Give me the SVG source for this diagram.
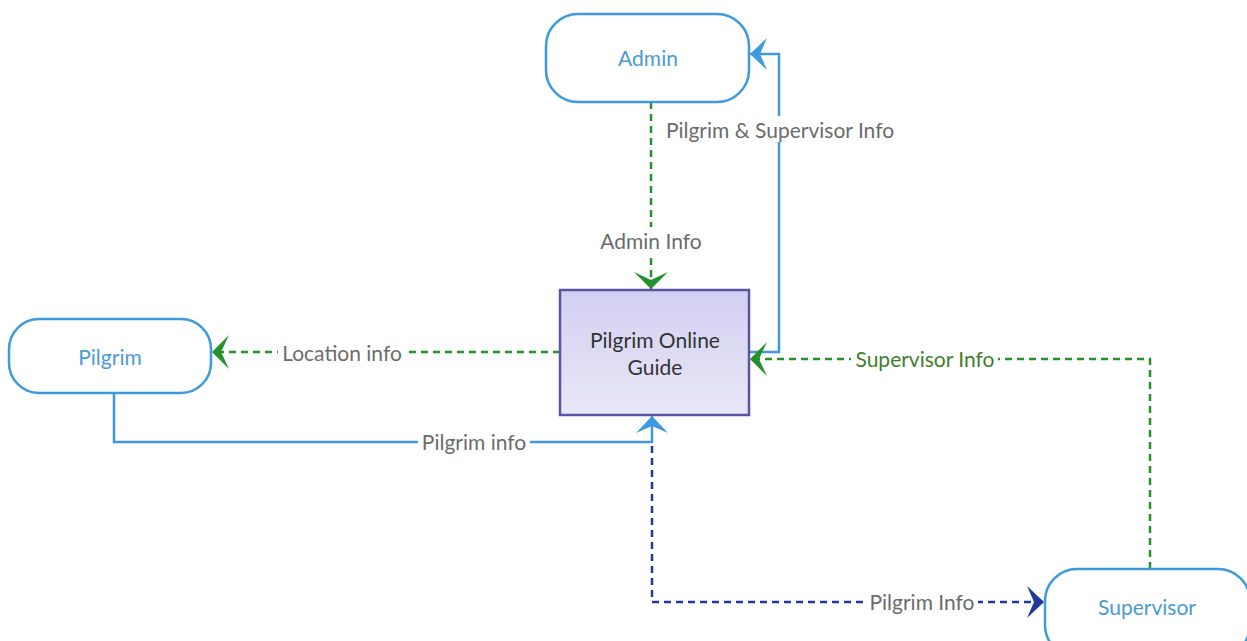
<svg xmlns="http://www.w3.org/2000/svg" width="1247" height="641" viewBox="0 0 1247 641">
  <style>
    .term { fill: #ffffff; stroke: #3d9ade; stroke-width: 2.5; }
    .termtxt { font-family: Lato, "Open Sans", sans-serif; font-size: 21px; fill: #4a9ad8; text-anchor: middle; dominant-baseline: central; }
    .proc { stroke: #5b54a6; stroke-width: 2.5; }
    .proctxt { font-family: Lato, "Open Sans", sans-serif; font-size: 21px; fill: #333333; text-anchor: middle; dominant-baseline: central; }
    .lbl { font-family: Lato, "Open Sans", sans-serif; font-size: 21px; fill: #6b6b6b; text-anchor: middle; dominant-baseline: central; }
    .lbl-green { fill: #3e7f2e; }
    .bg { fill: #ffffff; }
    .line { fill: none; stroke-width: 2.5; }
    .blue { stroke: #3d9ade; }
    .green { stroke: #24912a; stroke-dasharray: 7 5; }
    .navy { stroke: #1f3a9c; stroke-dasharray: 7 5; }
  </style>
  <defs>
    <linearGradient id="procFill" x1="0" y1="0" x2="0" y2="1">
      <stop offset="0" stop-color="#d2d0f1"/>
      <stop offset="1" stop-color="#e9e7f6"/>
    </linearGradient>
    <marker id="arrBlue" markerUnits="userSpaceOnUse" markerWidth="24" markerHeight="40" viewBox="-20 -20 24 40" refX="0" refY="0" orient="auto">
      <path d="M0,0 L-17,-16 L-10,0 L-17,16 Z" fill="#3d9ade"/>
    </marker>
    <marker id="arrGreen" markerUnits="userSpaceOnUse" markerWidth="24" markerHeight="40" viewBox="-20 -20 24 40" refX="0" refY="0" orient="auto">
      <path d="M0,0 L-17,-17 L-9,0 L-17,17 Z" fill="#24912a"/>
    </marker>
    <marker id="arrNavy" markerUnits="userSpaceOnUse" markerWidth="24" markerHeight="40" viewBox="-20 -20 24 40" refX="0" refY="0" orient="auto">
      <path d="M0,0 L-17,-16 L-10,0 L-17,16 Z" fill="#1f3a9c"/>
    </marker>
  </defs>

  <!-- connectors -->
  <g id="connectors">
    <!-- Admin -> Guide -->
    <path class="line green" d="M651,102 L651,289" marker-end="url(#arrGreen)"/>
    <rect class="bg" x="597" y="227" width="108" height="26"/>
    <text class="lbl" x="651" y="240">Admin Info</text>

    <!-- Guide -> Admin -->
    <path class="line blue" d="M749,352 L779,352 L779,54 L750,54" marker-end="url(#arrBlue)"/>
    <rect class="bg" x="662" y="116" width="236" height="26"/>
    <text class="lbl" x="780" y="129">Pilgrim &amp; Supervisor Info</text>

    <!-- Guide -> Pilgrim -->
    <path class="line green" d="M560,352 L212,352" marker-end="url(#arrGreen)"/>
    <rect class="bg" x="278" y="339" width="127" height="26"/>
    <text class="lbl" x="342" y="352">Location info</text>

    <!-- Supervisor -> Guide -->
    <path class="line green" d="M1150,569 L1150,359 L750,359" marker-end="url(#arrGreen)"/>
    <rect class="bg" x="851" y="346" width="147" height="26"/>
    <text class="lbl lbl-green" x="925" y="358">Supervisor Info</text>

    <!-- Pilgrim -> Guide -->
    <path class="line blue" d="M114,393 L114,442 L652,442 L652,416" marker-end="url(#arrBlue)"/>
    <rect class="bg" x="418" y="429" width="112" height="26"/>
    <text class="lbl" x="474" y="441">Pilgrim info</text>

    <!-- Guide -> Supervisor -->
    <path class="line navy" d="M652,446 L652,602 L1044,602" marker-end="url(#arrNavy)"/>
    <rect class="bg" x="866" y="589" width="112" height="26"/>
    <text class="lbl" x="922" y="601">Pilgrim Info</text>
  </g>

  <!-- nodes -->
  <g id="admin">
    <rect class="term" x="546" y="14" width="203" height="88" rx="32" ry="32"/>
    <text class="termtxt" x="648" y="57">Admin</text>
  </g>

  <g id="pilgrim">
    <rect class="term" x="9" y="319" width="202" height="74" rx="30" ry="30"/>
    <text class="termtxt" x="110" y="356">Pilgrim</text>
  </g>

  <g id="guide">
    <rect class="proc" x="560" y="290" width="189" height="125" fill="url(#procFill)"/>
    <text class="proctxt" x="655" y="339">Pilgrim Online</text>
    <text class="proctxt" x="655" y="366">Guide</text>
  </g>

  <g id="supervisor">
    <rect class="term" x="1045" y="569" width="205" height="88" rx="32" ry="32"/>
    <text class="termtxt" x="1147" y="606">Supervisor</text>
  </g>
</svg>
